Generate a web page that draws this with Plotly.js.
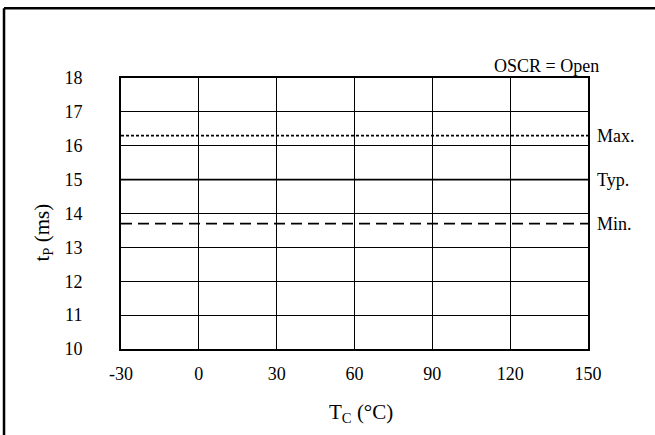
<!DOCTYPE html>
<html>
<head>
<meta charset="utf-8">
<script src="https://cdn.plot.ly/plotly-3.0.1.min.js"></script>
<style>
html,body{margin:0;padding:0;background:#fff;}
#chart{width:655px;height:435px;}
</style>
</head>
<body>
<div id="chart"></div>
<script>
// Data
const xRange = [-30, 150];
const xTicks = [-30, 0, 30, 60, 90, 120, 150];
const xTickText = ["-30", "0", "30", "60", "90", "120", "150"];
const yTicks = [10, 11, 12, 13, 14, 15, 16, 17, 18];
const seriesNames = ["Max.", "Typ.", "Min."];
const seriesValues = [16.3, 15.0, 13.7];
const seriesDash = ["dot", "solid", "dash"];
const conditionLabel = "OSCR = Open";

const font = "Liberation Serif, Times New Roman, serif";

const traces = seriesNames.map((n, i) => ({
  x: xRange,
  y: [seriesValues[i], seriesValues[i]],
  mode: "lines",
  name: n,
  line: {color: "#000", width: 1.8, dash: seriesDash[i] === "dot" ? "3px,2px" : (seriesDash[i] === "dash" ? "11px,6px" : "solid")},
  showlegend: false,
  hoverinfo: "skip"
}));

const annotations = seriesNames.map((n, i) => ({
  x: 1, xref: "paper", xanchor: "left", xshift: 7,
  y: seriesValues[i], yref: "y", yanchor: "middle",
  text: n, showarrow: false,
  font: {family: font, size: 18, color: "#000"}
}));
annotations.push({
  x: 1, xref: "paper", xanchor: "right", xshift: 13,
  y: 1, yref: "paper", yanchor: "bottom", yshift: 0,
  text: conditionLabel, showarrow: false,
  font: {family: font, size: 18, color: "#000"}
});
annotations.push({
  x: 0.514, xref: "paper", xanchor: "center",
  y: 0, yref: "paper", yanchor: "top", yshift: -49,
  text: "T<sub>C</sub> (°C)", showarrow: false,
  font: {family: font, size: 21, color: "#000"}
});
annotations.push({
  x: 0, xref: "paper", xanchor: "center", xshift: -78,
  y: 0.43, yref: "paper", yanchor: "middle",
  text: "t<sub>P</sub> (ms)", textangle: -90, showarrow: false,
  font: {family: font, size: 21, color: "#000"}
});

const layout = {
  width: 655, height: 435,
  margin: {l: 121, r: 67, t: 78, b: 86},
  paper_bgcolor: "#fff", plot_bgcolor: "#fff",
  font: {family: font, size: 18, color: "#000"},
  xaxis: {
    range: xRange, tickvals: xTicks, ticktext: xTickText, ticks: "",
    showgrid: true, gridcolor: "#000", gridwidth: 1,
    showline: true, linecolor: "#000", linewidth: 2, mirror: true,
    zeroline: false, ticklabelstandoff: 7,
    tickfont: {family: font, size: 18, color: "#000"}, fixedrange: true
  },
  yaxis: {
    range: [10, 18], tickvals: yTicks, ticks: "",
    showgrid: true, gridcolor: "#000", gridwidth: 1,
    showline: true, linecolor: "#000", linewidth: 2, mirror: true,
    zeroline: false, ticklabelstandoff: 33,
    tickfont: {family: font, size: 18, color: "#000"}, fixedrange: true
  },
  annotations: annotations,
  shapes: [
    {type: "line", xref: "paper", yref: "paper", x0: -0.2505, x1: 1.3, y0: 1.257, y1: 1.257, line: {color: "#000", width: 2.5}},
    {type: "line", xref: "paper", yref: "paper", x0: -0.2505, x1: -0.2505, y0: 1.257, y1: -0.4, line: {color: "#000", width: 2.5}}
  ]
};

Plotly.newPlot("chart", traces, layout, {displayModeBar: false, staticPlot: true});
</script>
</body>
</html>
